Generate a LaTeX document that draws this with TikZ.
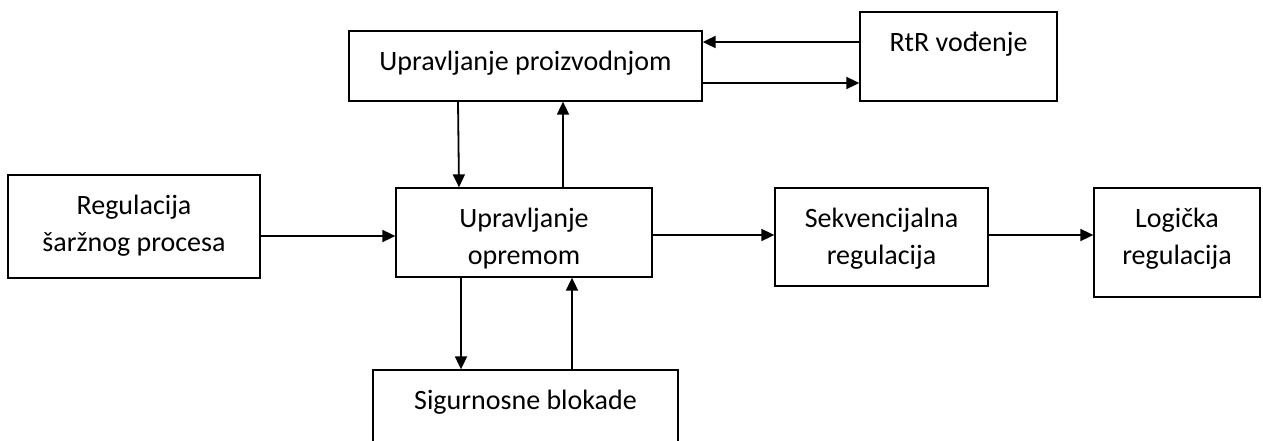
\documentclass[tikz,border=0pt]{standalone}
\usepackage{fontspec}
\setmainfont{Carlito}
\usepackage{tikz}
\usetikzlibrary{arrows.meta, positioning}
\tikzset{%
  plain_block/.style={%
    rectangle,%
    draw=black,%
    line width=1.3pt,%
    inner sep=0pt,%
  },
  block_text/.style={%
    font={\fontsize{28}{37.5}\selectfont},%
    align=center,%
    inner sep=0pt,%
  },
  signal_path/.style={%
    color=black,%
    line width=1.8pt,%
    line join=miter,%
  },
  arrow/.style={-{Triangle[length=13pt, width=12pt]}},
}

\begin{document}
\begin{tikzpicture}[x=1pt, y=-1pt]

    \useasboundingbox (0, 0) rectangle (1263, 441);

    \node [plain_block, minimum width=353pt, minimum height=70pt] (Production) at (525.5, 66) {};
    \node [plain_block, minimum width=197pt, minimum height=89pt] (RtR) at (958.5, 56.5) {};
    \node [plain_block, minimum width=252pt, minimum height=103pt] (BatchCtrl) at (134, 226.5) {};
    \node [plain_block, minimum width=256pt, minimum height=89pt] (Equipment) at (524, 232.5) {};
    \node [plain_block, minimum width=213pt, minimum height=98pt] (Sequential) at (881.5, 237) {};
    \node [plain_block, minimum width=166pt, minimum height=109pt] (Logic) at (1177, 242.5) {};
    \node [plain_block, minimum width=305pt, minimum height=89pt] (Safety) at (525.5, 414.5) {};

    \node [block_text, below = 20.5pt of Production.north] (ProductionText) {Upravljanje proizvodnjom};
    \node [block_text, below = 20.5pt of RtR.north] (RtRText) {RtR vođenje};
    \node [block_text, below = 20.5pt of BatchCtrl.north] (BatchCtrlText) {Regulacija\\šaržnog procesa};
    \node [block_text, below = 20.5pt of Equipment.north] (EquipmentText) {Upravljanje\\opremom};
    \node [block_text, below = 20.5pt of Sequential.north] (SequentialText) {Sekvencijalna\\regulacija};
    \node [block_text, below = 20.5pt of Logic.north] (LogicText) {Logička\\regulacija};
    \node [block_text, below = 20.5pt of Safety.north] (SafetyText) {Sigurnosne blokade};

    \draw [arrow, signal_path]
      ([yshift=14.5pt]RtR.west)
      --
      ([yshift=24pt]Production.east);
    \draw [arrow, signal_path]
      ([yshift=-17pt]Production.east)
      --
      ([yshift=-26.5pt]RtR.west);
    \draw [arrow, signal_path]
      ([xshift=-67.5pt]Production.south)
      --
      ([xshift=-65pt]Equipment.north);
    \draw [arrow, signal_path]
      ([xshift=39pt]Equipment.north)
      --
      ([xshift=37.5pt]Production.south);
    \draw [arrow, signal_path]
      ([yshift=-9.5pt]BatchCtrl.east)
      --
      ([yshift=-3.5pt]Equipment.west);
    \draw [arrow, signal_path]
      ([yshift=-2.5pt]Equipment.east)
      --
      ([yshift=2pt]Sequential.west);
    \draw [arrow, signal_path]
      ([yshift=2pt]Sequential.east)
      --
      ([yshift=7.5pt]Logic.west);
    \draw [arrow, signal_path]
      ([xshift=-63pt]Equipment.south)
      --
      ([xshift=-64.5pt]Safety.north);
    \draw [arrow, signal_path]
      ([xshift=46.5pt]Safety.north)
      --
      ([xshift=48pt]Equipment.south);
  \end{tikzpicture}
\end{document}
